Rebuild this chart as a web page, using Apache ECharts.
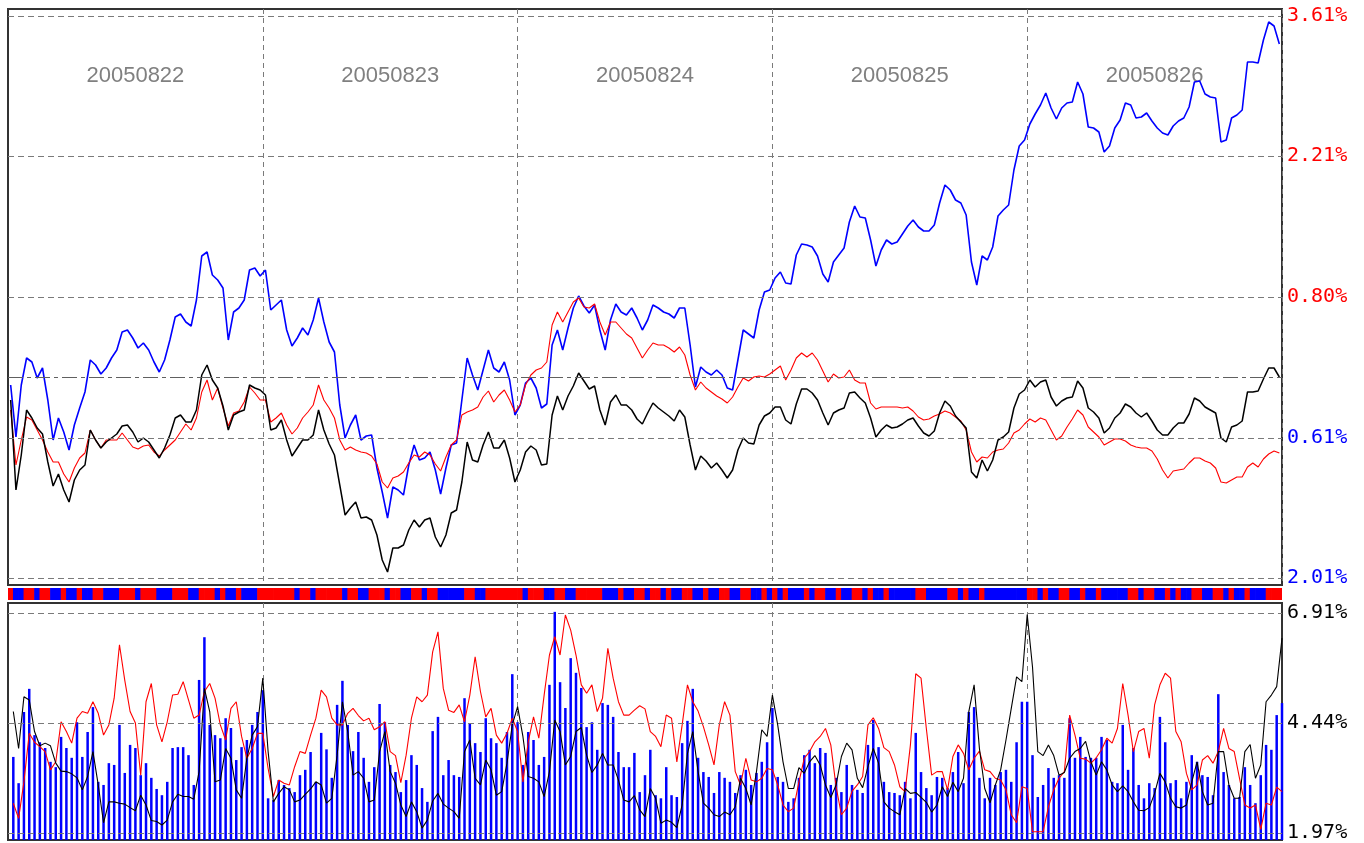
<!DOCTYPE html>
<html>
<head>
<meta charset="utf-8">
<title>20050822-20050826</title>
<script src="https://cdn.jsdelivr.net/npm/echarts@6/dist/echarts.min.js"></script>
<style>
  html, body { margin: 0; padding: 0; background: #fff; }
  #chart { width: 1364px; height: 843px; }
</style>
</head>
<body>
<div id="chart"></div>
<script>
// trading days, 48 five-minute slots each
const dates = ['20050822', '20050823', '20050824', '20050825', '20050826'];

// upper panel: cumulative change in %
const priceBlue = [
  -0.08, -0.60, -0.08, 0.19, 0.15, -0.01, 0.09, -0.23, -0.63, -0.41, -0.55, -0.73, -0.48, -0.31, -0.15, 0.17, 0.12, 0.03, 0.09, 0.19, 0.27, 0.45, 0.47, 0.39, 0.29, 0.34, 0.27, 0.15, 0.05, 0.17, 0.37, 0.60, 0.63, 0.55, 0.51, 0.77, 1.21, 1.25, 1.02, 0.97, 0.89, 0.37, 0.65, 0.69, 0.77, 1.07, 1.09, 1.01,
  1.07, 0.67, 0.72, 0.77, 0.47, 0.31, 0.39, 0.49, 0.42, 0.57, 0.79, 0.55, 0.35, 0.25, -0.28, -0.61, -0.48, -0.38, -0.63, -0.59, -0.58, -0.91, -1.15, -1.41, -1.10, -1.13, -1.18, -0.88, -0.68, -0.83, -0.81, -0.75, -0.93, -1.17, -0.91, -0.68, -0.66, -0.23, 0.19, 0.02, -0.13, 0.07, 0.27, 0.09, 0.05, 0.15, -0.03, -0.38,
  -0.28, -0.06, -0.01, -0.11, -0.31, -0.27, 0.32, 0.47, 0.27, 0.49, 0.69, 0.81, 0.71, 0.64, 0.72, 0.47, 0.27, 0.57, 0.73, 0.65, 0.62, 0.69, 0.59, 0.47, 0.57, 0.72, 0.69, 0.65, 0.63, 0.59, 0.69, 0.69, 0.32, -0.10, 0.10, 0.05, 0.02, 0.07, 0.02, -0.11, -0.13, 0.17, 0.47, 0.43, 0.39, 0.67, 0.85, 0.87,
  0.99, 1.05, 0.94, 0.93, 1.22, 1.33, 1.32, 1.30, 1.21, 1.03, 0.95, 1.15, 1.22, 1.29, 1.55, 1.71, 1.60, 1.59, 1.37, 1.11, 1.27, 1.37, 1.33, 1.35, 1.43, 1.51, 1.57, 1.50, 1.46, 1.46, 1.52, 1.74, 1.92, 1.87, 1.77, 1.74, 1.62, 1.15, 0.92, 1.21, 1.17, 1.30, 1.61, 1.67, 1.72, 2.07, 2.31, 2.37,
  2.53, 2.63, 2.72, 2.84, 2.69, 2.58, 2.69, 2.74, 2.75, 2.95, 2.83, 2.50, 2.49, 2.45, 2.25, 2.31, 2.49, 2.57, 2.74, 2.72, 2.59, 2.60, 2.64, 2.56, 2.49, 2.44, 2.42, 2.51, 2.56, 2.59, 2.70, 2.95, 2.96, 2.83, 2.80, 2.79, 2.35, 2.37, 2.59, 2.62, 2.67, 3.15, 3.15, 3.14, 3.37, 3.55, 3.51, 3.33
];
const priceRed = [
  -0.33, -0.88, -0.63, -0.40, -0.43, -0.53, -0.63, -0.75, -0.85, -0.85, -0.97, -1.05, -0.91, -0.81, -0.76, -0.53, -0.63, -0.71, -0.63, -0.63, -0.63, -0.56, -0.63, -0.70, -0.72, -0.69, -0.68, -0.75, -0.79, -0.73, -0.68, -0.63, -0.55, -0.47, -0.53, -0.41, -0.15, -0.03, -0.23, -0.11, -0.31, -0.49, -0.36, -0.34, -0.25, -0.10, -0.16, -0.23,
  -0.23, -0.45, -0.41, -0.36, -0.48, -0.57, -0.51, -0.41, -0.35, -0.28, -0.08, -0.23, -0.31, -0.41, -0.63, -0.73, -0.70, -0.73, -0.75, -0.76, -0.79, -0.87, -1.05, -1.11, -1.01, -0.99, -0.95, -0.86, -0.78, -0.80, -0.75, -0.78, -0.87, -0.94, -0.80, -0.68, -0.63, -0.38, -0.35, -0.33, -0.30, -0.20, -0.14, -0.25, -0.18, -0.13, -0.23, -0.35,
  -0.28, -0.08, 0.02, 0.07, 0.09, 0.15, 0.52, 0.65, 0.55, 0.65, 0.75, 0.79, 0.70, 0.69, 0.73, 0.55, 0.42, 0.55, 0.55, 0.49, 0.43, 0.39, 0.29, 0.19, 0.27, 0.34, 0.32, 0.32, 0.29, 0.25, 0.30, 0.22, 0.02, -0.13, -0.05, -0.11, -0.15, -0.19, -0.22, -0.26, -0.20, -0.10, -0.01, -0.04, 0.00, 0.01, 0.00, 0.03,
  0.07, 0.11, -0.03, 0.07, 0.19, 0.24, 0.20, 0.24, 0.17, 0.06, -0.05, 0.03, -0.01, 0.00, 0.07, -0.03, -0.06, -0.06, -0.26, -0.32, -0.30, -0.30, -0.30, -0.30, -0.31, -0.30, -0.34, -0.40, -0.43, -0.42, -0.39, -0.37, -0.34, -0.36, -0.40, -0.44, -0.53, -0.75, -0.85, -0.80, -0.81, -0.75, -0.73, -0.72, -0.66, -0.56, -0.53, -0.47,
  -0.42, -0.45, -0.41, -0.43, -0.53, -0.63, -0.59, -0.50, -0.42, -0.33, -0.38, -0.50, -0.55, -0.60, -0.68, -0.65, -0.62, -0.62, -0.64, -0.68, -0.70, -0.71, -0.71, -0.74, -0.82, -0.93, -1.01, -0.94, -0.93, -0.92, -0.86, -0.81, -0.81, -0.84, -0.86, -0.91, -1.05, -1.06, -1.03, -1.00, -1.00, -0.90, -0.86, -0.90, -0.82, -0.77, -0.74, -0.76
];
const priceBlack = [
  -0.23, -1.13, -0.78, -0.33, -0.41, -0.51, -0.57, -0.85, -1.09, -0.97, -1.13, -1.25, -1.03, -0.93, -0.88, -0.53, -0.63, -0.71, -0.65, -0.61, -0.57, -0.49, -0.48, -0.55, -0.65, -0.61, -0.65, -0.73, -0.81, -0.71, -0.58, -0.41, -0.38, -0.45, -0.45, -0.33, 0.02, 0.12, -0.03, -0.11, -0.29, -0.53, -0.38, -0.35, -0.33, -0.08, -0.11, -0.13,
  -0.18, -0.53, -0.51, -0.43, -0.63, -0.79, -0.71, -0.63, -0.63, -0.58, -0.33, -0.53, -0.67, -0.78, -1.08, -1.38, -1.31, -1.25, -1.41, -1.40, -1.43, -1.58, -1.83, -1.95, -1.71, -1.71, -1.68, -1.53, -1.43, -1.50, -1.43, -1.41, -1.60, -1.70, -1.58, -1.36, -1.33, -1.05, -0.65, -0.83, -0.85, -0.68, -0.55, -0.71, -0.71, -0.63, -0.81, -1.05,
  -0.93, -0.75, -0.69, -0.73, -0.88, -0.87, -0.38, -0.19, -0.33, -0.19, -0.09, 0.04, -0.04, -0.12, -0.09, -0.33, -0.48, -0.25, -0.18, -0.28, -0.28, -0.33, -0.42, -0.47, -0.36, -0.26, -0.31, -0.35, -0.39, -0.44, -0.33, -0.40, -0.68, -0.93, -0.79, -0.84, -0.91, -0.86, -0.93, -1.01, -0.93, -0.73, -0.61, -0.66, -0.67, -0.48, -0.39, -0.36,
  -0.30, -0.30, -0.43, -0.47, -0.27, -0.12, -0.12, -0.16, -0.23, -0.36, -0.48, -0.36, -0.33, -0.31, -0.16, -0.15, -0.21, -0.26, -0.41, -0.60, -0.53, -0.48, -0.51, -0.50, -0.47, -0.43, -0.41, -0.49, -0.56, -0.59, -0.54, -0.36, -0.24, -0.29, -0.39, -0.45, -0.51, -0.95, -1.01, -0.83, -0.94, -0.83, -0.63, -0.60, -0.55, -0.31, -0.17, -0.13,
  -0.03, -0.10, -0.05, -0.03, -0.20, -0.29, -0.24, -0.21, -0.20, -0.04, -0.11, -0.31, -0.35, -0.41, -0.56, -0.51, -0.41, -0.36, -0.27, -0.30, -0.36, -0.40, -0.36, -0.44, -0.53, -0.58, -0.58, -0.51, -0.46, -0.46, -0.37, -0.21, -0.24, -0.30, -0.33, -0.36, -0.61, -0.65, -0.50, -0.48, -0.44, -0.15, -0.15, -0.14, -0.02, 0.09, 0.09, 0.00
];

// strip between panels: 1 = red slot, 0 = blue slot
const stripUp = [
  1,0,0,1,1,0,1,1,0,0, 1,0,0,1,0,0,1,1,0,0,
  0,1,1,1,0,1,1,1,0,0, 0,1,1,1,0,0,1,1,1,0,
  1,0,0,1,0,0,0,1,1,1, 1,1,1,1,0,1,1,0,1,1,
  1,1,1,0,1,1,0,0,1,1, 1,0,1,1,0,0,1,1,0,1,
  1,0,0,0,0,0,1,1,0,0, 1,1,1,1,1,1,1,0,1,1,
  1,0,0,1,1,0,0,1,1,1, 1,1,0,0,0,1,0,0,1,1,
  0,1,1,0,1,0,0,1,1,0, 0,1,0,0,1,1,0,0,1,1,
  0,0,1,0,1,0,1,0,0,0, 1,0,1,1,0,0,1,0,0,1,
  1,0,1,0,0,1,0,0,0,0, 0,1,1,0,0,0,0,1,1,0,
  1,0,0,1,0,0,0,0,0,0, 0,0,1,1,0,1,0,0,1,1,
  0,0,1,0,0,1,0,0,0,0, 0,1,1,0,1,1,0,0,1,0,
  1,0,0,1,1,0,0,1,1,0, 1,0,0,1,0,0,0,1,1,1
];

// lower panel, %
const volBars = [
  3.68, 3.09, 4.69, 5.21, 4.17, 4.01, 3.88, 3.57, 3.45, 4.13, 3.88, 3.66, 4.46, 3.68, 4.24, 4.80, 3.12, 3.05, 3.54, 3.50, 4.40, 3.32, 3.95, 3.88, 3.27, 3.54, 3.21, 2.96, 2.82, 3.12, 3.88, 3.90, 3.90, 3.72, 3.05, 5.41, 6.37, 4.40, 4.17, 4.10, 4.55, 4.33, 3.61, 3.90, 4.06, 4.40, 4.69, 5.18,
  2.75, 2.71, 3.16, 3.05, 2.98, 2.89, 3.27, 3.39, 3.79, 3.12, 4.22, 3.85, 3.21, 4.85, 5.39, 4.40, 3.81, 4.24, 3.66, 3.12, 3.45, 4.87, 4.46, 3.50, 3.34, 2.89, 3.16, 3.72, 3.50, 2.98, 2.67, 4.26, 4.58, 3.27, 3.61, 3.27, 3.23, 5.00, 4.44, 3.99, 3.79, 4.55, 4.10, 3.99, 3.66, 4.24, 5.54, 4.46,
  3.50, 4.24, 4.06, 3.50, 3.68, 5.30, 6.94, 5.36, 4.78, 5.90, 5.57, 5.23, 4.35, 4.46, 3.84, 4.89, 4.85, 4.58, 3.79, 3.45, 3.45, 3.77, 2.89, 3.27, 3.84, 2.82, 2.75, 3.45, 2.82, 2.78, 3.99, 4.49, 5.21, 3.66, 3.34, 3.23, 2.87, 3.34, 3.21, 3.12, 2.87, 3.27, 3.39, 3.05, 3.32, 3.57, 4.01, 4.78,
  3.23, 3.12, 2.67, 2.75, 3.21, 3.72, 3.84, 3.54, 3.88, 3.77, 3.05, 3.21, 2.89, 3.50, 3.05, 2.94, 2.87, 3.95, 4.51, 3.90, 3.12, 2.89, 2.87, 2.82, 3.12, 2.75, 4.22, 3.34, 2.98, 2.82, 3.23, 3.21, 2.98, 3.34, 3.79, 3.09, 4.69, 4.80, 3.21, 2.75, 3.21, 3.05, 3.34, 3.39, 3.12, 4.01, 4.92, 4.92,
  3.72, 2.78, 3.05, 3.43, 3.21, 3.27, 3.21, 4.55, 3.66, 4.13, 3.68, 3.66, 3.66, 4.13, 4.06, 3.12, 3.09, 4.40, 3.39, 3.88, 3.05, 2.75, 3.09, 2.98, 4.58, 4.01, 3.09, 3.16, 2.75, 3.12, 3.72, 3.57, 3.27, 3.23, 2.82, 5.09, 3.34, 3.05, 2.75, 2.78, 3.45, 3.05, 2.64, 3.27, 3.95, 3.84, 4.62, 4.89
];
const volRed = [
  2.64, 2.30, 3.12, 4.21, 4.01, 3.91, 3.80, 3.39, 3.57, 4.47, 4.25, 3.99, 4.55, 4.70, 4.66, 4.92, 4.66, 4.17, 4.40, 5.00, 6.20, 5.40, 4.70, 4.44, 3.27, 4.92, 5.33, 4.40, 4.02, 4.47, 5.07, 5.09, 5.37, 4.96, 4.55, 4.62, 5.15, 5.33, 5.00, 4.40, 4.06, 4.77, 4.92, 4.14, 3.65, 3.87, 4.21, 4.21,
  3.42, 2.79, 3.16, 3.09, 3.05, 3.46, 3.80, 3.76, 4.17, 4.55, 5.18, 5.03, 4.55, 4.40, 4.40, 4.66, 4.77, 4.61, 4.49, 4.55, 4.29, 4.36, 4.47, 3.80, 3.71, 3.10, 3.72, 4.55, 5.03, 4.92, 5.07, 6.04, 6.49, 5.22, 4.73, 4.68, 4.85, 4.47, 5.07, 5.93, 5.15, 4.58, 4.77, 4.17, 3.99, 4.21, 4.55, 4.25,
  3.12, 4.02, 4.58, 4.10, 5.07, 5.97, 6.38, 5.97, 6.87, 6.53, 5.97, 5.30, 5.11, 5.30, 4.70, 5.00, 6.12, 5.45, 4.92, 4.62, 4.62, 4.73, 4.83, 4.76, 4.25, 4.14, 3.91, 4.62, 4.55, 3.57, 4.40, 5.30, 4.92, 4.71, 4.36, 3.95, 3.50, 4.40, 4.92, 4.62, 3.35, 3.05, 3.65, 3.16, 3.12, 3.20, 3.42, 3.39,
  3.05, 2.60, 2.45, 2.53, 3.12, 3.65, 3.80, 4.02, 4.14, 4.32, 3.95, 3.01, 2.38, 2.53, 2.91, 3.05, 3.24, 4.40, 4.56, 4.32, 3.89, 3.80, 3.50, 3.01, 2.90, 3.95, 5.55, 5.45, 4.32, 3.27, 3.35, 3.35, 2.94, 3.69, 3.95, 3.76, 3.39, 3.65, 3.81, 3.39, 3.35, 3.20, 3.16, 2.94, 2.38, 2.20, 3.01, 2.97,
  2.00, 2.00, 2.00, 2.56, 2.94, 3.20, 3.35, 4.62, 4.17, 3.65, 3.63, 3.54, 3.66, 3.84, 4.10, 3.99, 4.32, 5.33, 4.62, 3.80, 4.25, 4.32, 3.65, 4.85, 5.30, 5.56, 5.45, 4.25, 4.02, 3.31, 2.94, 3.05, 3.61, 3.71, 3.54, 3.80, 4.32, 3.87, 3.80, 3.20, 2.60, 2.53, 2.60, 2.05, 2.64, 2.60, 3.00, 2.90
];
const volBlack = [
  4.70, 3.87, 5.03, 4.96, 4.25, 3.93, 3.99, 3.93, 3.54, 3.36, 3.35, 3.30, 3.21, 2.94, 3.24, 3.80, 3.05, 2.20, 2.67, 2.67, 2.64, 2.62, 2.54, 2.47, 2.82, 2.60, 2.25, 2.23, 2.15, 2.26, 2.67, 2.84, 2.79, 2.79, 2.73, 3.35, 5.22, 4.70, 3.12, 3.16, 3.87, 3.65, 2.94, 2.75, 3.65, 4.17, 4.36, 5.45,
  3.80, 2.67, 2.86, 3.01, 2.94, 2.67, 2.71, 2.84, 2.96, 3.12, 3.05, 2.64, 2.75, 3.72, 4.92, 4.25, 3.27, 3.35, 3.20, 2.67, 2.71, 3.80, 4.25, 3.35, 3.09, 2.60, 2.34, 2.67, 2.45, 2.08, 2.26, 2.69, 2.86, 2.62, 2.53, 2.45, 2.30, 3.80, 4.06, 3.20, 3.05, 3.61, 3.39, 2.82, 2.90, 3.54, 4.40, 4.81,
  4.14, 3.24, 3.20, 3.12, 2.79, 3.35, 4.51, 4.25, 3.50, 3.69, 4.25, 4.34, 3.72, 3.33, 3.50, 3.76, 3.50, 3.50, 3.16, 2.71, 2.67, 2.81, 2.49, 2.34, 2.97, 2.75, 2.19, 2.26, 2.21, 2.09, 2.60, 3.76, 4.25, 3.35, 2.64, 2.53, 2.38, 2.34, 2.44, 2.38, 2.56, 3.20, 2.97, 2.60, 3.35, 4.29, 4.14, 5.07,
  4.40, 3.57, 2.97, 2.97, 3.44, 3.31, 3.57, 3.71, 3.50, 3.05, 2.77, 3.05, 3.69, 3.99, 3.84, 3.20, 2.99, 3.46, 3.87, 3.54, 2.67, 2.53, 2.45, 2.38, 2.97, 2.86, 2.88, 2.77, 2.66, 2.44, 2.60, 3.01, 2.79, 3.11, 2.90, 3.20, 4.70, 5.30, 3.87, 2.97, 2.65, 3.05, 3.39, 4.06, 4.77, 5.48, 5.37, 6.88,
  5.70, 3.80, 3.71, 3.95, 3.71, 3.27, 3.33, 3.65, 3.80, 3.87, 4.03, 3.57, 3.27, 3.57, 3.39, 3.05, 2.90, 3.03, 2.90, 2.67, 2.48, 2.47, 2.54, 2.86, 3.31, 3.12, 2.75, 2.56, 2.53, 2.60, 3.12, 3.57, 2.90, 2.60, 2.64, 3.80, 3.80, 3.05, 2.75, 2.75, 3.80, 3.96, 3.20, 3.50, 4.92, 5.07, 5.26, 6.35
];

// reference levels and their right-hand labels
const topLevels = [3.61, 2.21, 0.80, -0.61, -2.01];
const topLabels = ['3.61%', '2.21%', '0.80%', '0.61%', '2.01%'];
const topLabelColors = ['#ff0000', '#ff0000', '#ff0000', '#0000ff', '#0000ff'];
const bottomLevels = [6.91, 4.44, 1.97];
const bottomLabels = ['6.91%', '4.44%', '1.97%'];

const SLOTS_PER_DAY = 48;
const slots = [];
dates.forEach(d => {
  for (let s = 0; s < SLOTS_PER_DAY; s++) slots.push(d + ' #' + (s + 1));
});
// lower panel has an extra leading slot (open), so bars sit on slot ends
const volSlots = ['open'].concat(slots);

const gridDash = { color: '#7a7a7a', type: [6, 4], width: 1 };
const dayLine = { color: '#7a7a7a', type: [5, 4], width: 1 };
const rightLabel = { position: 'end', distance: 5, fontFamily: 'DejaVu Sans Mono', fontSize: 20 };

const chart = echarts.init(document.getElementById('chart'));

chart.setOption({
  animation: false,
  backgroundColor: '#fff',
  grid: [
    { left: 8, top: 9, width: 1274, height: 576, show: true, borderColor: '#333', borderWidth: 2, backgroundColor: '#fff' },
    { left: 8, top: 588, width: 1274, height: 12 },
    { left: 8, top: 603, width: 1274, height: 237, show: true, borderColor: '#333', borderWidth: 2, backgroundColor: '#fff' }
  ],
  xAxis: [
    {
      type: 'category', gridIndex: 0, data: slots, boundaryGap: true,
      axisLine: { show: false }, axisTick: { show: false }, axisLabel: { show: false },
      splitLine: { show: true, interval: (i) => i > 0 && i % SLOTS_PER_DAY === 0, lineStyle: dayLine }
    },
    {
      type: 'category', gridIndex: 0, data: dates, position: 'top', boundaryGap: true,
      axisLine: { show: false }, axisTick: { show: false }, splitLine: { show: false },
      axisLabel: { inside: true, margin: 56, color: '#808080', fontSize: 22, fontFamily: 'Liberation Sans' }
    },
    { type: 'category', gridIndex: 1, data: slots, boundaryGap: true, show: false },
    {
      type: 'category', gridIndex: 2, data: volSlots, boundaryGap: false,
      axisLine: { show: false }, axisTick: { show: false }, axisLabel: { show: false },
      splitLine: { show: true, interval: (i) => i > 0 && i < slots.length && i % SLOTS_PER_DAY === 0, lineStyle: dayLine }
    }
  ],
  yAxis: [
    { type: 'value', gridIndex: 0, min: -2.08, max: 3.68, show: false },
    { type: 'value', gridIndex: 1, min: 0, max: 1, show: false },
    { type: 'value', gridIndex: 2, min: 1.813, max: 7.139, show: false }
  ],
  series: [
    {
      type: 'line', xAxisIndex: 0, yAxisIndex: 0, data: priceBlue,
      symbol: 'none', lineStyle: { color: '#0000ff', width: 1.6 }, itemStyle: { color: '#0000ff' },
      markLine: {
        symbol: 'none', silent: true, animation: false,
        lineStyle: gridDash, label: rightLabel,
        data: topLevels.map((v, i) => ({
          yAxis: v, label: { formatter: topLabels[i], color: topLabelColors[i] }
        })).concat([{
          yAxis: 0, label: { show: false }, lineStyle: { color: '#606060', type: [15, 4, 4, 4], width: 1 }
        }])
      }
    },
    {
      type: 'line', xAxisIndex: 0, yAxisIndex: 0, data: priceRed,
      symbol: 'none', lineStyle: { color: '#ff0000', width: 1.1 }, itemStyle: { color: '#ff0000' }
    },
    {
      type: 'line', xAxisIndex: 0, yAxisIndex: 0, data: priceBlack,
      symbol: 'none', lineStyle: { color: '#000000', width: 1.5 }, itemStyle: { color: '#000000' }
    },
    {
      // slightly wider than a slot so neighbouring blocks overlap without seams
      type: 'bar', xAxisIndex: 2, yAxisIndex: 1, barWidth: 6,
      data: stripUp.map(u => ({ value: 1, itemStyle: { color: u ? '#ff0000' : '#0000ff' } }))
    },
    {
      type: 'bar', xAxisIndex: 3, yAxisIndex: 2, data: ['-'].concat(volBars),
      barWidth: 2.5, itemStyle: { color: '#0000ff' },
      markLine: {
        symbol: 'none', silent: true, animation: false,
        lineStyle: gridDash, label: rightLabel,
        data: bottomLevels.map((v, i) => ({ yAxis: v, label: { formatter: bottomLabels[i], color: '#000000' } }))
      }
    },
    {
      type: 'line', xAxisIndex: 3, yAxisIndex: 2, data: ['-'].concat(volRed),
      symbol: 'none', lineStyle: { color: '#ff0000', width: 1.1 }, itemStyle: { color: '#ff0000' }
    },
    {
      type: 'line', xAxisIndex: 3, yAxisIndex: 2, data: ['-'].concat(volBlack),
      symbol: 'none', lineStyle: { color: '#000000', width: 1.1 }, itemStyle: { color: '#000000' }
    }
  ]
});
</script>
</body>
</html>
